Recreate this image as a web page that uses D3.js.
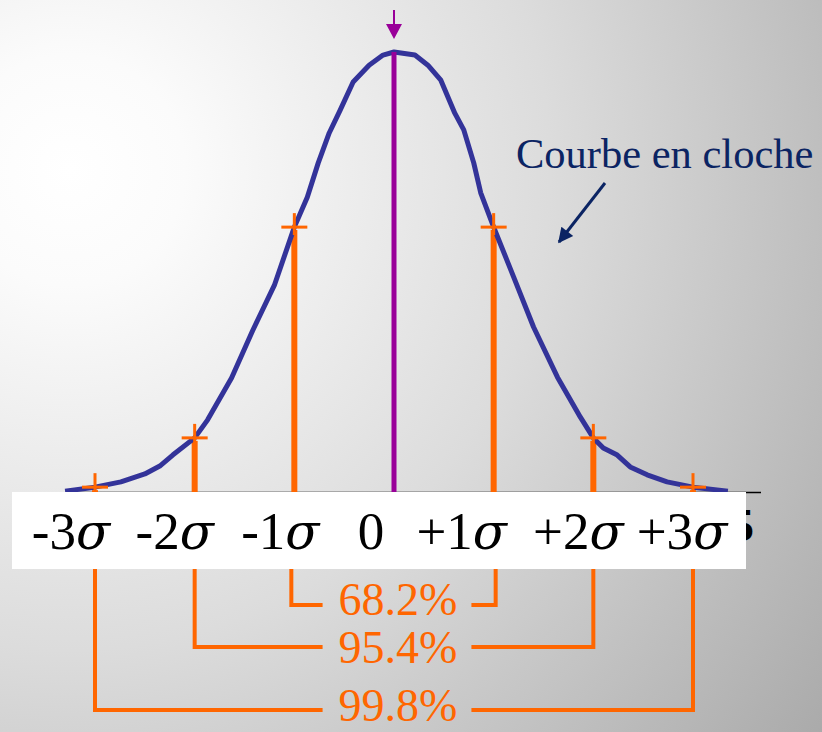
<!DOCTYPE html>
<html>
<head>
<meta charset="utf-8">
<script src="https://cdn.jsdelivr.net/npm/d3@7"></script>
<style>
  html, body { margin: 0; padding: 0; overflow: hidden; }
</style>
</head>
<body>
<div id="courbe"></div>
<script>
// courbe en cloche
const sigmaCourbe = [-3.3, -3.0, -2.74, -2.5, -2.35, -2.22, -2.0, -1.87, -1.63, -1.42, -1.2, -1.0,
    -0.87, -0.76, -0.65, -0.54, -0.41, -0.25, -0.11, 0, 0.21, 0.34, 0.47, 0.61, 0.7, 0.8, 0.87,
    1.0, 1.2, 1.4, 1.64, 1.87, 2.0, 2.1, 2.24, 2.37, 2.54, 2.74, 3.0, 3.35];
// hauteur en % du sommet
const hauteurCourbe = [0.2, 1.1, 2.3, 4.1, 5.9, 8.4, 12.3, 16.4, 25.9, 36.6, 47, 60.2,
    67, 74.8, 81.6, 86.8, 93.2, 97, 99.3, 100, 99.3, 97, 93.6, 86.1, 82.3, 74.8, 68,
    60.2, 48.9, 37.5, 26.1, 17, 12.3, 10, 8.4, 5.7, 3.9, 2.3, 1.1, 0.2];

const reperes = [-3, -2, -1, 1, 2, 3];
const etiquetteSigma = [-3, -2, -1, 0, 1, 2, 3];
const etiquettes = ["-3", "-2", "-1", "0", "+1", "+2", "+3"];
const intervalles = [1, 2, 3];
const pourcentages = ["68.2%", "95.4%", "99.8%"];
const titre = "Courbe en cloche";

const width = 822;
const height = 732;
const orange = "#ff6600";
const bleu = "#333399";
const violet = "#990099";
const marine = "#0b2463";

const svg = d3.select("#courbe")
    .append("svg")
    .attr("width", width)
    .attr("height", height)
    .style("display", "block");

// fond en degrade
const defs = svg.append("defs");
const grad = defs.append("radialGradient")
    .attr("id", "fond")
    .attr("gradientUnits", "userSpaceOnUse")
    .attr("cx", 70).attr("cy", 170).attr("r", 960);
grad.append("stop").attr("offset", "0").attr("stop-color", "#ffffff");
grad.append("stop").attr("offset", "0.12").attr("stop-color", "#fbfbfb");
grad.append("stop").attr("offset", "0.5").attr("stop-color", "#dcdcdc");
grad.append("stop").attr("offset", "1").attr("stop-color", "#a8a8a8");

svg.append("rect")
    .attr("width", width)
    .attr("height", height)
    .attr("fill", "url(#fond)");

const xScale = d3.scaleLinear()
    .domain([-3, 3])
    .range([95, 693]);

const yScale = d3.scaleLinear()
    .domain([0, 100])
    .range([492, 52]);

const hauteurA = s => hauteurCourbe[sigmaCourbe.indexOf(s)];

// axe (en partie cache par le bandeau blanc)
svg.append("line")
    .attr("x1", xScale(-3.3)).attr("x2", 761)
    .attr("y1", 492.5).attr("y2", 492.5)
    .attr("stroke", "#000").attr("stroke-width", 1.5);

svg.append("text")
    .attr("x", 731).attr("y", 541)
    .attr("font-family", "Liberation Serif, serif")
    .attr("font-size", 46)
    .attr("font-weight", "bold")
    .attr("fill", "#000")
    .text("5");

// traits verticaux orange au-dessus de l'axe
svg.selectAll(".tige")
    .data(reperes)
    .enter()
    .append("line")
    .attr("class", "tige")
    .attr("x1", d => xScale(d)).attr("x2", d => xScale(d))
    .attr("y1", d => yScale(hauteurA(d)) + 3)
    .attr("y2", 493)
    .attr("stroke", orange)
    .attr("stroke-width", 6);

// courbe
const ligne = d3.line()
    .x((d, i) => xScale(d))
    .y((d, i) => yScale(hauteurCourbe[i]));

svg.append("path")
    .datum(sigmaCourbe)
    .attr("d", ligne)
    .attr("fill", "none")
    .attr("stroke", bleu)
    .attr("stroke-width", 5)
    .attr("stroke-linejoin", "round");

// croix sur la courbe
reperes.forEach(d => {
    const cx = xScale(d), cy = yScale(hauteurA(d));
    svg.append("line")
        .attr("x1", cx - 13).attr("x2", cx + 13)
        .attr("y1", cy).attr("y2", cy)
        .attr("stroke", orange).attr("stroke-width", 3);
    svg.append("line")
        .attr("x1", cx).attr("x2", cx)
        .attr("y1", cy - 14).attr("y2", cy + 8)
        .attr("stroke", orange).attr("stroke-width", 3);
});

// moyenne
svg.append("line")
    .attr("x1", xScale(0)).attr("x2", xScale(0))
    .attr("y1", yScale(100)).attr("y2", 493)
    .attr("stroke", violet).attr("stroke-width", 5);

svg.append("line")
    .attr("x1", xScale(0)).attr("x2", xScale(0))
    .attr("y1", 10).attr("y2", 26)
    .attr("stroke", violet).attr("stroke-width", 2);

svg.append("path")
    .attr("d", `M${xScale(0) - 8},24 L${xScale(0) + 8},24 L${xScale(0)},39 Z`)
    .attr("fill", violet);

// titre et fleche
svg.append("text")
    .attr("x", 516).attr("y", 168)
    .attr("font-family", "Liberation Serif, serif")
    .attr("font-size", 42.5)
    .attr("fill", marine)
    .text(titre);

defs.append("marker")
    .attr("id", "pointe")
    .attr("viewBox", "0 0 10 10")
    .attr("refX", 9).attr("refY", 5)
    .attr("markerWidth", 6).attr("markerHeight", 5)
    .attr("markerUnits", "strokeWidth")
    .attr("orient", "auto")
    .append("path")
    .attr("d", "M0,0 L10,5 L0,10 Z")
    .attr("fill", marine);

svg.append("line")
    .attr("x1", 605).attr("y1", 183)
    .attr("x2", 559).attr("y2", 242)
    .attr("stroke", marine).attr("stroke-width", 3)
    .attr("marker-end", "url(#pointe)");

// bandeau blanc des etiquettes
svg.append("rect")
    .attr("x", 12).attr("y", 492)
    .attr("width", 734).attr("height", 77)
    .attr("fill", "#ffffff");

// decalage des etiquettes par rapport aux reperes (comme sur l'original)
const decalEtiquette = [-24, -20, -14, -23, -32, -15, -11];

const lab = svg.selectAll(".etiquette")
    .data(etiquetteSigma)
    .enter()
    .append("text")
    .attr("class", "etiquette")
    .attr("x", (d, i) => xScale(d) + decalEtiquette[i])
    .attr("y", 549)
    .attr("text-anchor", "middle")
    .attr("font-family", "Liberation Serif, serif")
    .attr("font-size", 53)
    .attr("fill", "#000");

lab.append("tspan").text((d, i) => etiquettes[i]);
lab.filter(d => d !== 0)
    .append("tspan")
    .attr("font-family", "DejaVu Serif, serif")
    .attr("font-style", "italic")
    .attr("font-size", 50)
    .text("σ");

// accolades des pourcentages
const niveaux = [605, 647, 710];
const decalage = [10, 16, 11];

intervalles.forEach((k, i) => {
    const xg = xScale(-k) - (k === 1 ? 3 : 0);
    const xd = xScale(k) + (k === 1 ? 2 : 0);
    const yb = niveaux[i];

    const t = svg.append("text")
        .attr("x", xScale(0) + 4)
        .attr("y", yb + decalage[i])
        .attr("text-anchor", "middle")
        .attr("font-family", "Liberation Serif, serif")
        .attr("font-size", 46)
        .attr("fill", orange)
        .text(pourcentages[i]);

    const w = t.node().getComputedTextLength();
    const tg = xScale(0) + 4 - w / 2;
    const td = xScale(0) + 4 + w / 2;

    svg.append("path")
        .attr("d", `M${xg},569 L${xg},${yb} L${tg - 16},${yb}`)
        .attr("fill", "none")
        .attr("stroke", orange)
        .attr("stroke-width", 4);

    svg.append("path")
        .attr("d", `M${td + 14},${yb} L${xd},${yb} L${xd},569`)
        .attr("fill", "none")
        .attr("stroke", orange)
        .attr("stroke-width", 4);
});
</script>
</body>
</html>
